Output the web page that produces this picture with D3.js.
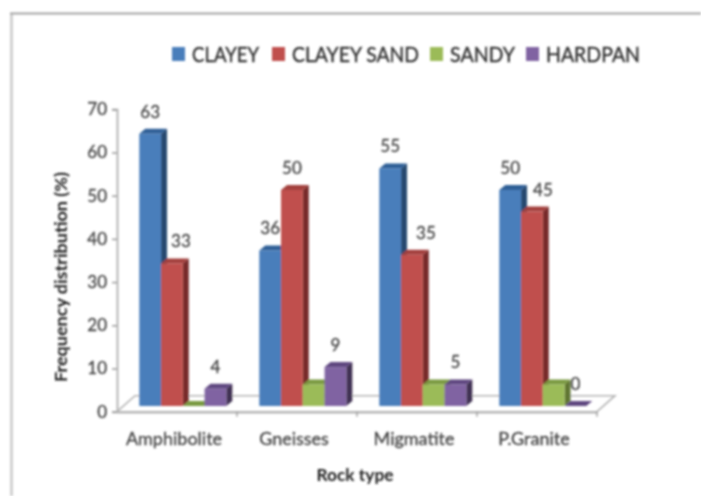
<!DOCTYPE html>
<html>
<head>
<meta charset="utf-8">
<script src="https://cdn.jsdelivr.net/npm/d3@7"></script>
<style>
  html, body { margin: 0; padding: 0; background: #fff; }
  svg { display: block; }
</style>
</head>
<body>
<script>
const rockTypes = ["Amphibolite", "Gneisses", "Migmatite", "P.Granite"]
const seriesNames = ["CLAYEY", "CLAYEY SAND", "SANDY", "HARDPAN"]
const clayey = [63, 36, 55, 50]
const clayeySand = [33, 50, 35, 45]
const sandy = [0, 5, 5, 5]
const hardpan = [4, 9, 5, 0]
const yTicks = [0, 10, 20, 30, 40, 50, 60, 70]
const seriesValues = [clayey, clayeySand, sandy, hardpan]
const labelled = [true, true, false, true]   // SANDY has no data labels

const [width, height] = [701, 496]
const font = "Lato, 'Open Sans', sans-serif"
const colors = {
    front: ["#4a7ebb", "#c0504d", "#9bbb59", "#8064a2"],
    top: ["#2f5f96", "#a33f3c", "#7a9a42", "#5f4780"],
    side: ["#26486f", "#772c2a", "#5f7530", "#403152"],
    axis: "#b5b5b5",
    text: "#454545"
}
const legendX = [172, 272, 430, 526]  // swatch left edges
const legendW = [67, 127, 65, 94]     // text widths

const svg = d3.select("body").append("svg")
    .attr("width", width)
    .attr("height", height)

const defs = svg.append("defs")
defs.append("filter").attr("id", "soft")
    .attr("filterUnits", "userSpaceOnUse")
    .attr("x", 0).attr("y", 0).attr("width", width).attr("height", height)
    .append("feGaussianBlur").attr("stdDeviation", 0.9)

const chart = svg.append("g").attr("filter", "url(#soft)")

// outer frame
chart.append("path")
    .attr("d", "M11.5,496V14")
    .attr("fill", "none").attr("stroke", "#c9c9c9").attr("stroke-width", 2.5)
chart.append("path")
    .attr("d", "M10,13.5H701")
    .attr("fill", "none").attr("stroke", "#a3a3a3").attr("stroke-width", 2)

const x = d3.scaleBand().domain(rockTypes).range([117, 597])
const y = d3.scaleLinear().domain([0, 70]).range([411.7, 109.3])
const xInner = d3.scaleBand().domain(d3.range(4)).range([0, 87])

const floor = { dx: 18, dy: -16 }       // depth of the floor
const depth = { dx: 6, dy: -5 }         // depth of a bar
const shift = { x: 22.3, y: -5.7 }      // bars stand in the middle of the floor

// floor
chart.append("path")
    .attr("d", `M${x.range()[0]},${y(0)}L${x.range()[0] + floor.dx},${y(0) + floor.dy}H${x.range()[1] + floor.dx}L${x.range()[1]},${y(0)}`)
    .attr("fill", "none").attr("stroke", colors.axis).attr("stroke-width", 1.6)

// y axis
const yAxis = chart.append("g")
    .attr("transform", `translate(${x.range()[0]},0)`)
    .call(d3.axisLeft(y).tickValues(yTicks).tickSize(5).tickPadding(5))
yAxis.select(".domain").attr("stroke", colors.axis).attr("stroke-width", 2)
yAxis.selectAll(".tick line").attr("stroke", "#999").attr("stroke-width", 1.5)
yAxis.selectAll("text").attr("fill", colors.text).attr("font-family", font).attr("font-size", 17)
    .attr("stroke", colors.text).attr("stroke-width", 0.3)

// x axis
const xAxis = chart.append("g")
    .attr("transform", `translate(0,${y(0)})`)
    .call(d3.axisBottom(x).tickSize(0).tickPadding(21))
xAxis.select(".domain").attr("stroke", colors.axis).attr("stroke-width", 2.4)
xAxis.selectAll("text").attr("fill", colors.text).attr("font-family", font).attr("font-size", 18)
    .attr("dx", -3)
    .attr("stroke", colors.text).attr("stroke-width", 0.3)
chart.append("g").selectAll("line")
    .data(rockTypes)
    .enter().append("line")
    .attr("x1", d => x(d) + x.bandwidth())
    .attr("x2", d => x(d) + x.bandwidth())
    .attr("y1", y(0))
    .attr("y2", y(0) + 5)
    .attr("stroke", "#999").attr("stroke-width", 1.3)

// bars, painted left to right so the next front covers the side face
const bars = seriesValues.flatMap((vals, s) => vals.map((v, i) => ({ s, v, cat: rockTypes[i], i })))
const barLeft = d => x(d.cat) + shift.x + xInner(d.s)
const barRight = d => barLeft(d) + xInner.bandwidth()
const base = y(0) + shift.y
const barTop = d => y(d.v) + shift.y

const barG = chart.append("g").selectAll("g")
    .data(d3.sort(bars, d => d.i, d => d.s))
    .enter().append("g")

barG.append("path")  // side
    .attr("d", d => `M${barRight(d)},${barTop(d)}l${depth.dx},${depth.dy}V${base + depth.dy}l${-depth.dx},${-depth.dy}Z`)
    .attr("fill", d => colors.side[d.s])
barG.append("path")  // top
    .attr("d", d => `M${barLeft(d)},${barTop(d)}l${depth.dx},${depth.dy}H${barRight(d) + depth.dx}l${-depth.dx},${-depth.dy}Z`)
    .attr("fill", d => colors.top[d.s])
barG.filter(d => d.v > 0).append("rect")  // front
    .attr("x", barLeft)
    .attr("y", barTop)
    .attr("width", xInner.bandwidth())
    .attr("height", d => base - barTop(d))
    .attr("fill", d => colors.front[d.s])

// data labels, a few sit beside the taller neighbour
const labelNudge = { "CLAYEY SAND Amphibolite": 9, "CLAYEY SAND Migmatite": 14, "CLAYEY SAND P.Granite": 11 }
chart.append("g").selectAll("text")
    .data(bars.filter(d => labelled[d.s]))
    .enter().append("text")
    .text(d => d.v)
    .attr("x", d => barLeft(d) + xInner.bandwidth() / 2 + (labelNudge[seriesNames[d.s] + " " + d.cat] || 0))
    .attr("y", d => barTop(d) - 16)
    .attr("text-anchor", "middle")
    .attr("fill", colors.text).attr("font-family", font).attr("font-size", 17)
    .attr("stroke", colors.text).attr("stroke-width", 0.3)

// legend
seriesNames.forEach((name, i) => {
    chart.append("rect")
        .attr("x", legendX[i]).attr("y", 47).attr("width", 13).attr("height", 14)
        .attr("fill", colors.front[i])
    chart.append("text")
        .text(name)
        .attr("x", legendX[i] + 20).attr("y", 62)
        .attr("textLength", legendW[i]).attr("lengthAdjust", "spacingAndGlyphs")
        .attr("fill", "#333").attr("stroke", "#333").attr("stroke-width", 0.4)
        .attr("font-family", font).attr("font-size", 21)
})

// axis titles
chart.append("text")
    .text("Frequency distribution (%)")
    .attr("transform", "translate(67,277) rotate(-90)")
    .attr("text-anchor", "middle")
    .attr("textLength", 210).attr("lengthAdjust", "spacingAndGlyphs")
    .attr("fill", "#222").attr("font-family", font).attr("font-weight", 700).attr("font-size", 17)
chart.append("text")
    .text("Rock type")
    .attr("x", 355).attr("y", 481)
    .attr("text-anchor", "middle")
    .attr("textLength", 77).attr("lengthAdjust", "spacingAndGlyphs")
    .attr("fill", "#222").attr("font-family", font).attr("font-weight", 700).attr("font-size", 17)
</script>
</body>
</html>
